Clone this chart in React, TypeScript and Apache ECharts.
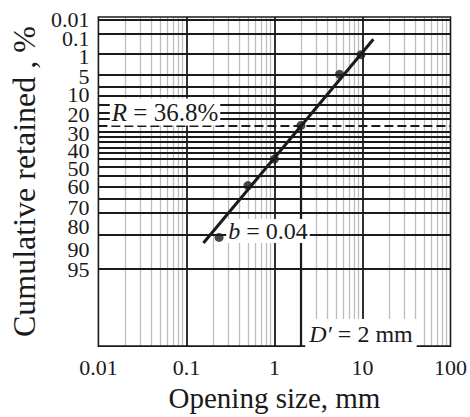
import React, { useEffect, useRef } from "react";
import * as echarts from "echarts";

// ---- data ----
const openingSize = [0.235, 0.5, 1, 2, 5.5, 9.6]; // mm
const retained = [95.2, 79.5, 65, 36.8, 5, 1.1]; // cumulative retained, %
const fitSize = [0.156, 13.3];
const fitRetained = [95.7, 0.33];
const characteristicSize = 2; // D'
const characteristicRetained = 36.8; // R

// ---- axis definitions ----
const xTicks = [0.01, 0.1, 1, 10, 100];
const xTickLabels = ["0.01", "0.1", "1", "10", "100"];
const xMajor = [0.1, 1, 10];
const xMinor = [
  0.02, 0.03, 0.04, 0.05, 0.06, 0.07, 0.08, 0.09,
  0.2, 0.3, 0.4, 0.5, 0.6, 0.7, 0.8, 0.9,
  2, 3, 4, 5, 6, 7, 8, 9,
  20, 30, 40, 50, 60, 70, 80, 90,
];
const yTickLabels = ["0.01", "0.1", "1", "5", "10", "20", "30", "40", "50", "60", "70", "80", "90", "95"];
const yTickDepth = [20, 39, 58, 78, 97, 117, 137, 155, 173, 192, 213, 233, 256, 277];
// nonuniform retained scale (R % -> depth units) ; grid lines drawn at these R values
const scaleR = [0.01, 0.1, 1, 5, 10, 15, 20, 25, 30, 36.8, 40, 45, 50, 55, 60, 65, 70, 75, 80, 85, 90, 95, 98];
const scaleDepth = [20.3, 34.7, 55.3, 76, 89.3, 98, 107, 115.3, 121.3, 128.7, 134.7, 140.3, 146, 151.5, 157, 163.3, 171.7, 181, 191.7, 204, 219, 241.7, 276.7];
const depthMin = 17;
const depthMax = 356;

function depthOf(r: number): number {
  if (r <= scaleR[0]) return scaleDepth[0];
  for (let i = 0; i < scaleR.length - 1; i++) {
    if (r <= scaleR[i + 1]) {
      const t = (r - scaleR[i]) / (scaleR[i + 1] - scaleR[i]);
      return scaleDepth[i] + t * (scaleDepth[i + 1] - scaleDepth[i]);
    }
  }
  return scaleDepth[scaleDepth.length - 1];
}

const FONT = "Liberation Serif";
const INK = "#1a1a1a";

function yLabelFormatter(v: number) {
  let best = 0;
  yTickDepth.forEach((d, i) => {
    if (Math.abs(d - v) < Math.abs(yTickDepth[best] - v)) best = i;
  });
  return yTickLabels[best];
}

function makeYAxis(values: number[], withName: boolean): any {
  return {
    type: "value",
    inverse: true,
    position: "left",
    min: depthMin,
    max: depthMax,
    name: withName ? "Cumulative retained , %" : "",
    nameLocation: "middle",
    nameRotate: 90,
    nameGap: 55,
    nameTextStyle: { fontFamily: FONT, fontSize: 32, color: INK },
    axisLine: { show: false },
    axisTick: { show: false },
    splitLine: { show: false },
    axisLabel: {
      customValues: values,
      showMinLabel: true,
      showMaxLabel: true,
      hideOverlap: false,
      margin: 9,
      fontFamily: FONT,
      fontSize: 22,
      lineHeight: 17,
      color: INK,
      formatter: yLabelFormatter,
    },
  };
}

export default function App() {
  const ref = useRef<HTMLDivElement>(null);
  useEffect(() => {
    if (!ref.current) return;
    const chart = echarts.init(ref.current, null, { renderer: "svg" });
    const noSym: any = ["none", "none"];
    const gridR = scaleR.filter((r) => r !== characteristicRetained);
    const evenDepth = yTickDepth.filter((_, i) => i % 2 === 0);
    const oddDepth = yTickDepth.filter((_, i) => i % 2 === 1);
    const option: any = {
      animation: false,
      backgroundColor: "#fff",
      grid: {
        left: 91,
        top: 17,
        width: 360,
        height: 339,
        show: true,
        borderColor: INK,
        borderWidth: 1.6,
        backgroundColor: "transparent",
        z: 10,
      },
      xAxis: {
        type: "log",
        logBase: 10,
        min: 0.01,
        max: 100,
        name: "Opening size, mm",
        nameLocation: "middle",
        nameGap: 33,
        nameTextStyle: { fontFamily: FONT, fontSize: 29, color: INK },
        axisLine: { show: false },
        axisTick: { show: false },
        splitLine: { show: false },
        axisLabel: {
          customValues: xTicks,
          showMinLabel: true,
          showMaxLabel: true,
          margin: 10,
          fontFamily: FONT,
          fontSize: 22,
          color: INK,
          formatter: (v: number) => {
            let best = 0;
            xTicks.forEach((t, i) => {
              if (Math.abs(Math.log10(t) - Math.log10(v)) < Math.abs(Math.log10(xTicks[best]) - Math.log10(v))) best = i;
            });
            return xTickLabels[best];
          },
        },
      },
      yAxis: [makeYAxis(evenDepth, true), makeYAxis(oddDepth, false)],
      series: [
        {
          type: "line",
          data: [],
          z: 1,
          markLine: {
            silent: true,
            symbol: noSym,
            label: { show: false },
            lineStyle: { color: "#bdbdbd", width: 1.3, type: "solid" },
            data: xMinor.map((v) => ({ xAxis: v })),
          },
        },
        {
          type: "line",
          data: [],
          z: 2,
          markLine: {
            silent: true,
            symbol: noSym,
            label: { show: false },
            lineStyle: { color: INK, width: 1.8, type: "solid" },
            data: [
              ...xMajor.map((v) => ({ xAxis: v })),
              ...gridR.map((r) => ({ yAxis: depthOf(r) })),
            ],
          },
        },
        {
          type: "line",
          data: [],
          z: 3,
          markLine: {
            silent: true,
            symbol: noSym,
            label: { show: false },
            lineStyle: { color: INK, width: 2, type: [9, 4] },
            data: [{ yAxis: depthOf(characteristicRetained) }],
          },
        },
        {
          type: "line",
          data: [],
          z: 3,
          markLine: {
            silent: true,
            symbol: noSym,
            label: { show: false },
            lineStyle: { color: INK, width: 2.2, type: "solid" },
            data: [
              [
                { coord: [characteristicSize, depthOf(characteristicRetained)] },
                { coord: [characteristicSize, depthMax] },
              ],
            ],
          },
        },
        {
          type: "line",
          z: 5,
          symbol: "none",
          lineStyle: { color: INK, width: 3 },
          data: fitSize.map((x, i) => [x, depthOf(fitRetained[i])]),
        },
        {
          type: "scatter",
          z: 6,
          symbolSize: 9,
          itemStyle: { color: INK },
          data: openingSize.map((x, i) => [x, depthOf(retained[i])]),
        },
      ],
      graphic: [
        {
          type: "text",
          z: 100,
          x: 165,
          y: 112,
          style: {
            text: "{i|R}{n| = 36.8%}",
            align: "center",
            verticalAlign: "middle",
            backgroundColor: "#fff",
            padding: [1, 2],
            rich: {
              i: { fontFamily: FONT, fontSize: 25, fontStyle: "italic", fill: INK },
              n: { fontFamily: FONT, fontSize: 25, fill: INK },
            },
          },
        },
        {
          type: "text",
          z: 100,
          x: 268,
          y: 231,
          style: {
            text: "{i|b}{n| = 0.04}",
            align: "center",
            verticalAlign: "middle",
            backgroundColor: "#fff",
            padding: [0, 2],
            rich: {
              i: { fontFamily: FONT, fontSize: 24, fontStyle: "italic", fill: INK },
              n: { fontFamily: FONT, fontSize: 24, fill: INK },
            },
          },
        },
        {
          type: "text",
          z: 100,
          x: 361,
          y: 334,
          style: {
            text: "{i|D\u2032}{n| = 2 mm}",
            align: "center",
            verticalAlign: "middle",
            backgroundColor: "#fff",
            padding: [3, 4],
            rich: {
              i: { fontFamily: FONT, fontSize: 24, fontStyle: "italic", fill: INK },
              n: { fontFamily: FONT, fontSize: 24, fill: INK },
            },
          },
        },
      ],
    };
    chart.setOption(option);
    return () => chart.dispose();
  }, []);
  return (
    <div
      ref={ref}
      style={{ position: "fixed", left: 0, top: 0, width: 470, height: 417, background: "#fff" }}
    />
  );
}
